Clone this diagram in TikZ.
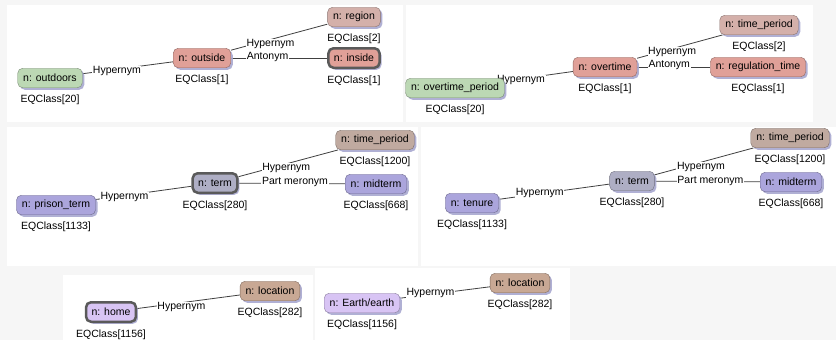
\documentclass[tikz,border=0pt]{standalone}
\usepackage{fontspec}
\setmainfont{Liberation Sans}
\usetikzlibrary{positioning,shadows}
\definecolor{panelbg}{HTML}{F6F6F6}
\definecolor{sage}{HTML}{BCD8B4}
\definecolor{salmon}{HTML}{E0A098}
\definecolor{rosy}{HTML}{D4B0AA}
\definecolor{taupe}{HTML}{C0AAA0}
\definecolor{tan}{HTML}{C8A894}
\definecolor{slate}{HTML}{AEAEC4}
\definecolor{lavender}{HTML}{ABA5DC}
\definecolor{lilac}{HTML}{D8C4F4}
\definecolor{shadowblue}{HTML}{A8A8D0}
\definecolor{rimColor}{HTML}{5A5A5A}
\definecolor{linkColor}{HTML}{404040}
\newcommand{\eqc}[1]{EQClass[#1]}
\pgfdeclarelayer{panels}
\pgfdeclarelayer{links}
\pgfsetlayers{panels,links,main}
\tikzset{
	syn/.style={draw=#1!65!black, fill=#1, rounded corners=5pt,
		minimum height=19.5pt, inner xsep=5.5pt, inner ysep=0pt,
		drop shadow={shadow xshift=2pt, shadow yshift=-2pt, fill=shadowblue, opacity=0.9}},
	hl/.style={draw=rimColor, line width=2.5pt},
	eqc/.style={inner sep=0pt, font=\fontsize{10.5}{12}\selectfont},
	lbl/.style={fill=white, inner sep=0.6pt, font=\fontsize{10.5}{12}\selectfont},
	lnk/.style={draw=linkColor, line width=0.8pt}
}

\begin{document}
\begin{tikzpicture}[x=1pt, y=-1pt, font=\fontsize{10.5}{12}\selectfont,
		every label/.style={eqc}, label distance=7pt]
	\useasboundingbox (0,0) rectangle (836,340);
	
	\begin{pgfonlayer}{panels}
		\fill[panelbg] (0,0) rectangle (836,340);
		\fill[white] (7,5) rectangle (403,122);
		\fill[white] (406,5) rectangle (813,122);
		\fill[white] (7,127) rectangle (418,266);
		\fill[white] (421,127) rectangle (836,266);
		\fill[white] (63,275) rectangle (313,340);
		\fill[white] (315,268) rectangle (570,340);
	\end{pgfonlayer}
	
	% outdoors / outside
	\node[syn=sage, label=below:\eqc{20}] (outdoors) at (50,78) {n: outdoors};
	\node[syn=salmon, label=below:\eqc{1}] (outside) at (202,58) {n: outside};
	\node[syn=rosy, label=below:\eqc{2}] (region) at (354,17) {n: region};
	\node[syn=salmon, hl, label=below:\eqc{1}] (inside) at (354,58) {n: inside};
	
	% overtime_period / overtime
	\node[syn=sage, label=below:\eqc{20}] (overtimeperiod) at (455,88) {n: overtime\_period};
	\node[syn=salmon, label=below:\eqc{1}] (overtime) at (605,67) {n: overtime};
	\node[syn=rosy, label=below:\eqc{2}] (periodA) at (759,25) {n: time\_period};
	\node[syn=salmon, label=below:\eqc{1}] (regtime) at (758,67) {n: regulation\_time};
	
	% prison_term / term
	\node[syn=lavender, label=below:\eqc{1133}] (prisonterm) at (56,205) {n: prison\_term};
	\node[syn=slate, hl, label=below:\eqc{280}] (termA) at (215,183) {n: term};
	\node[syn=taupe, label=below:\eqc{1200}] (periodB) at (375,140) {n: time\_period};
	\node[syn=lavender, label=below:\eqc{668}] (midtermA) at (376,184) {n: midterm};
	
	% tenure / term
	\node[syn=lavender, label=below:\eqc{1133}] (tenure) at (472,203) {n: tenure};
	\node[syn=slate, label=below:\eqc{280}] (termB) at (632,181) {n: term};
	\node[syn=taupe, label=below:\eqc{1200}] (periodC) at (790,138) {n: time\_period};
	\node[syn=lavender, label=below:\eqc{668}] (midtermB) at (791,182) {n: midterm};
	
	% home, Earth/earth
	\node[syn=lilac, hl, label=below:\eqc{1156}] (home) at (111,312) {n: home};
	\node[syn=tan, label=below:\eqc{282}] (locationA) at (270,291) {n: location};
	\node[syn=lilac, label=below:\eqc{1156}] (earth) at (362,303) {n: Earth/earth};
	\node[syn=tan, label=below:\eqc{282}] (locationB) at (520,283) {n: location};
	
	\begin{pgfonlayer}{links}
		\path (outdoors) edge[lnk] node[lbl, pos=0.38, yshift=-2pt] {Hypernym} (outside);
		\path (outside) edge[lnk] node[lbl, pos=0.41, yshift=-4.5pt] {Hypernym} (region);
		\path (outside) edge[lnk] node[lbl, pos=0.38, yshift=1.5pt] {Antonym} (inside);
		
		\path (overtimeperiod) edge[lnk] node[lbl, pos=0.24, yshift=-1.3pt] {Hypernym} (overtime);
		\path (overtime) edge[lnk] node[lbl, pos=0.41, yshift=-3.3pt] {Hypernym} (periodA);
		\path (overtime) edge[lnk] node[lbl, pos=0.44, yshift=2pt] {Antonym} (regtime);
		
		\path (prisonterm) edge[lnk] node[lbl, pos=0.3, yshift=-1.7pt] {Hypernym} (termA);
		\path (termA) edge[lnk] node[lbl, pos=0.48, yshift=-4.3pt] {Hypernym} (periodB);
		\path (termA) edge[lnk] node[lbl, pos=0.53, yshift=1.5pt] {Part meronym} (midtermA);
		
		\path (tenure) edge[lnk] node[lbl, pos=0.37, yshift=0.5pt] {Hypernym} (termB);
		\path (termB) edge[lnk] node[lbl, pos=0.47, yshift=-5pt] {Hypernym} (periodC);
		\path (termB) edge[lnk] node[lbl, pos=0.53, yshift=0.5pt] {Part meronym} (midtermB);
		
		\path (home) edge[lnk] node[lbl, pos=0.43, yshift=-4.3pt] {Hypernym} (locationA);
		\path (earth) edge[lnk] node[lbl, pos=0.34, yshift=1pt] {Hypernym} (locationB);
	\end{pgfonlayer}
\end{tikzpicture}
\end{document}
